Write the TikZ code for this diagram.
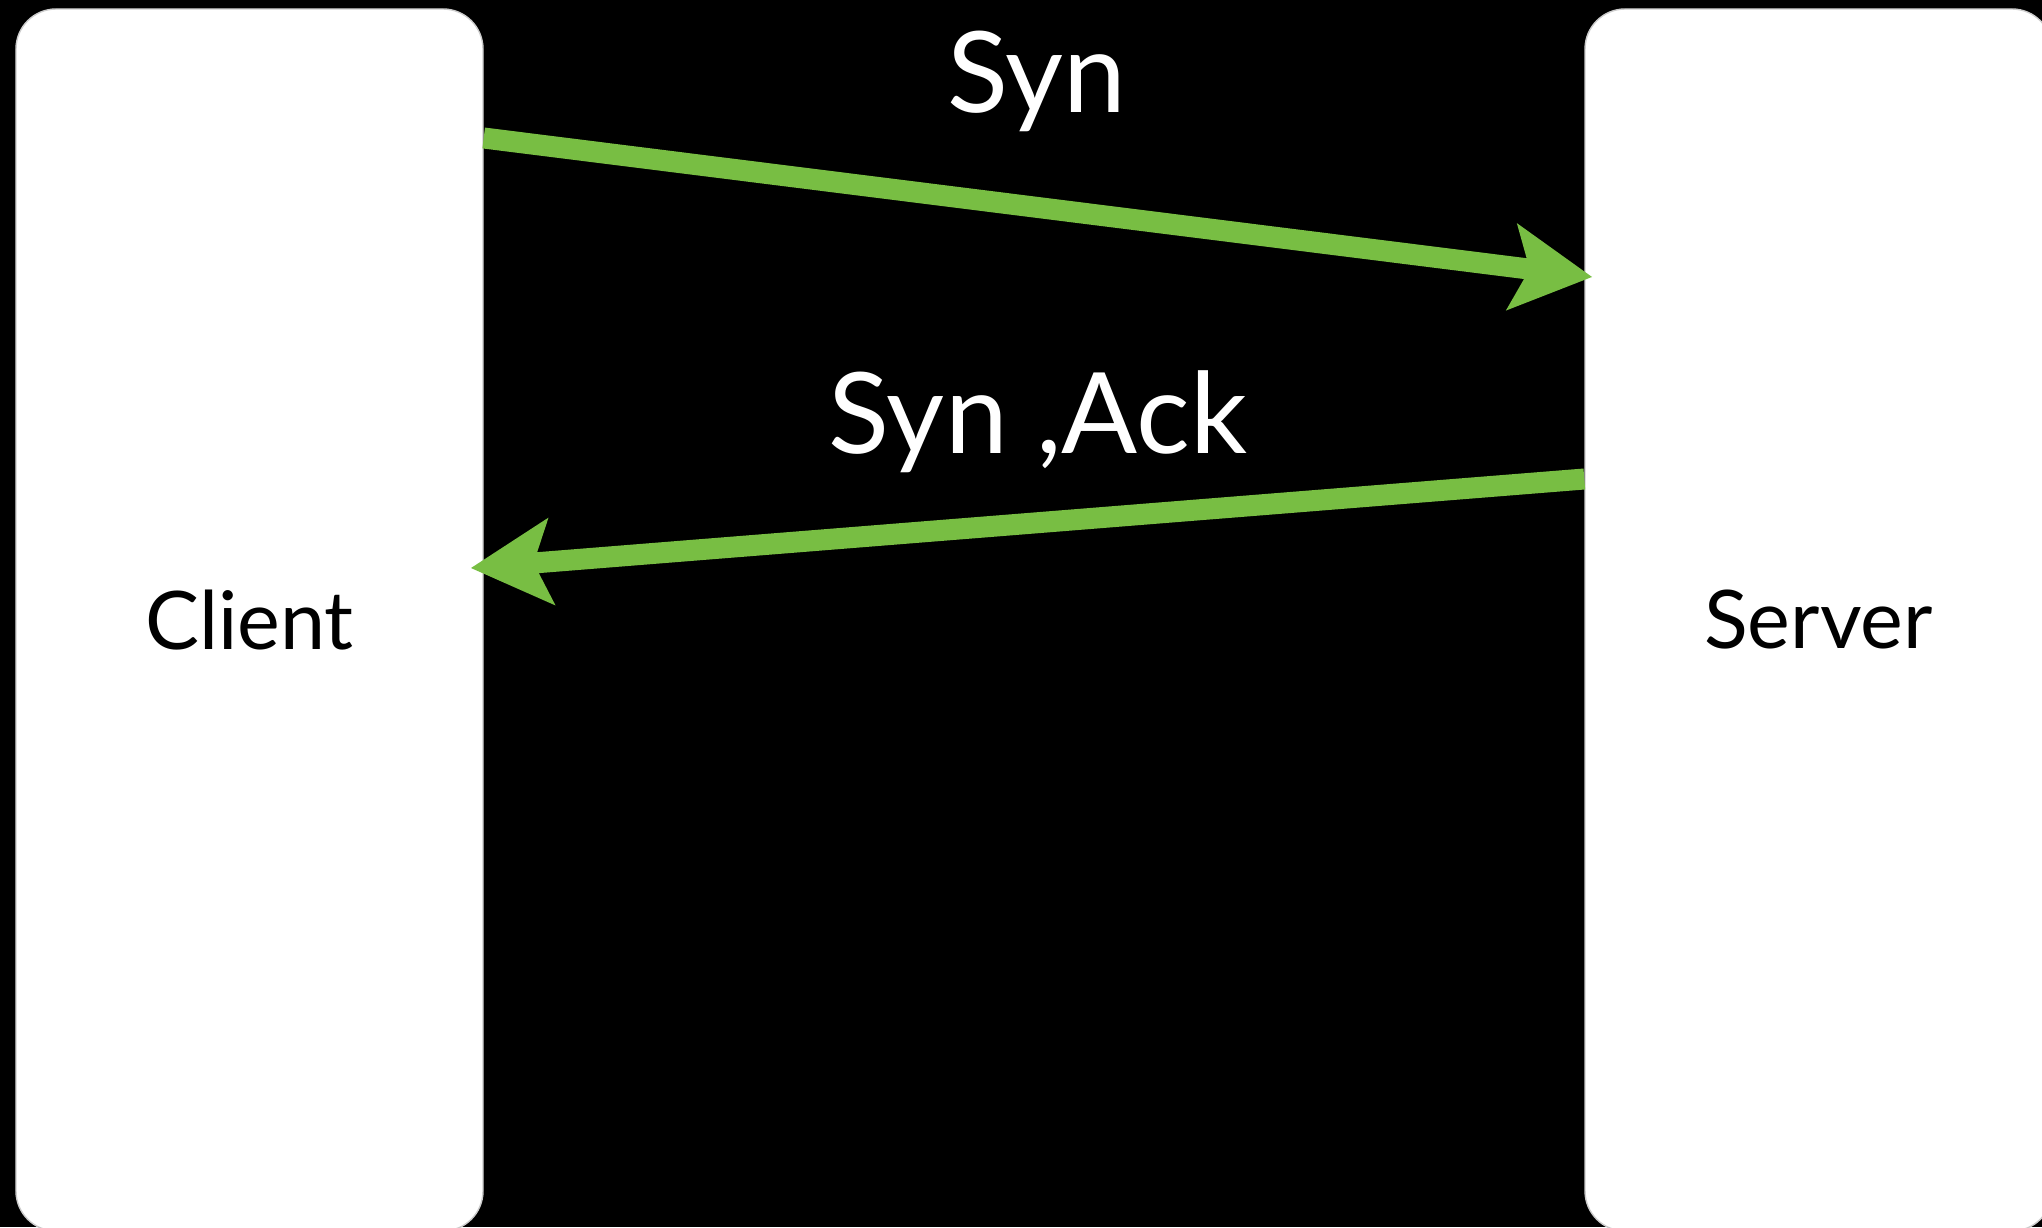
\documentclass[tikz,border=0pt]{standalone}
\usepackage{fontspec}
\setmainfont{Lato}
\usetikzlibrary{arrows.meta}
\definecolor{msggreen}{RGB}{120,190,67}
\tikzstyle{host}=[draw=gray!40, line width=0.4pt, fill=white, rounded corners=0.4cm,
minimum width=4.67cm, minimum height=12.22cm, font=\fontsize{23}{28}\selectfont]
\tikzstyle{msg}=[draw=msggreen, line width=0.21cm, -{Stealth[length=0.8cm,width=0.85cm,inset=0.17cm]}]
\tikzstyle{msglabel}=[text=white, font=\fontsize{32}{38}\selectfont, anchor=base, inner sep=0pt]

\begin{document}
\begin{tikzpicture}[node distance=15.69cm,auto]
      \useasboundingbox (0,0) rectangle (20.42,-12.27);
      \clip (0,0) rectangle (20.42,-12.27);
      \fill[black] (0,0) rectangle (20.42,-12.27);
      \node [host] (client) at (2.495,-6.20) {Client};
      \node [host] (server) [right of=client] {Server};
      \node [msglabel] (syn) at (10.37,-1.13) {Syn};
      \node [msglabel] (synack) at (10.38,-4.53) {Syn ,Ack};
      \draw[msg, shorten >=-0.08cm] (client.east |- 0,-1.38) -- (server.west |- 0,-2.76);
      \draw[msg, shorten >=-0.13cm] (server.west |- 0,-4.79) -- (client.east |- 0,-5.67);
  \end{tikzpicture}
\end{document}
